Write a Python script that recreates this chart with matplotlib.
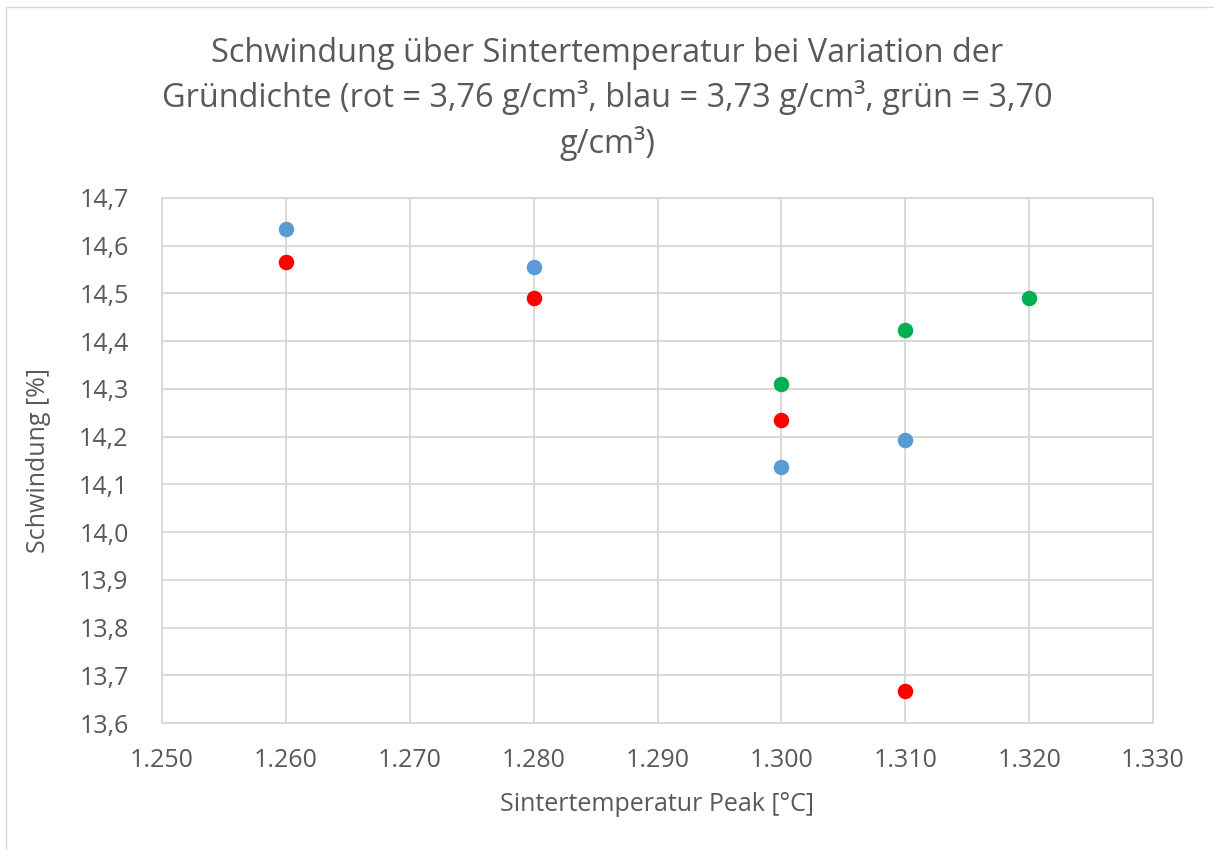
import matplotlib
matplotlib.use("Agg")
import matplotlib.pyplot as plt
from matplotlib.patches import Rectangle
from matplotlib.ticker import FixedLocator, FuncFormatter

plt.rcParams['font.family'] = ['Open Sans', 'DejaVu Sans']

# Sintertemperatur-Peak [°C] und Schwindung [%] je Gründichte
temp_rot = [1260, 1280, 1300, 1310]
schw_rot = [14.566, 14.490, 14.234, 13.667]

temp_blau = [1260, 1280, 1300, 1310]
schw_blau = [14.635, 14.555, 14.136, 14.193]

temp_gruen = [1300, 1310, 1320]
schw_gruen = [14.310, 14.423, 14.490]

x_ticks = [1250, 1260, 1270, 1280, 1290, 1300, 1310, 1320, 1330]
y_ticks = [13.6, 13.7, 13.8, 13.9, 14.0, 14.1, 14.2, 14.3, 14.4, 14.5, 14.6, 14.7]

title = ("Schwindung über Sintertemperatur bei Variation der\n"
         "Gründichte (rot = 3,76 g/cm³, blau = 3,73 g/cm³, grün = 3,70\n"
         "g/cm³)")

text_col = '#595959'
grid_col = '#D9D9D9'

W, H = 1214, 850
fig = plt.figure(figsize=(W / 100, H / 100), dpi=100)

# chart frame
fig.patches.append(Rectangle((6 / W, -0.05), 1.1, 1 - 7 / H + 0.05,
                             transform=fig.transFigure, fill=False,
                             edgecolor=grid_col, linewidth=1.0))

ax = fig.add_axes([162 / W, 1 - 723 / H, (1153 - 162) / W, (723 - 198) / H])

ax.scatter(temp_blau, schw_blau, s=125, color='#5B9BD5', zorder=3, linewidths=0)
ax.scatter(temp_rot, schw_rot, s=125, color='#FF0000', zorder=3, linewidths=0)
ax.scatter(temp_gruen, schw_gruen, s=125, color='#00B050', zorder=3, linewidths=0)

ax.set_xlim(1250, 1330)
ax.set_ylim(13.6, 14.7)
ax.xaxis.set_major_locator(FixedLocator(x_ticks))
ax.yaxis.set_major_locator(FixedLocator(y_ticks))
ax.xaxis.set_major_formatter(FuncFormatter(lambda v, p: f"{int(v):,}".replace(",", ".")))
ax.yaxis.set_major_formatter(FuncFormatter(lambda v, p: f"{v:.1f}".replace(".", ",")))

ax.grid(True, color=grid_col, linewidth=1.4)
ax.set_axisbelow(True)
for s in ax.spines.values():
    s.set_color(grid_col)
    s.set_linewidth(1.4)

ax.tick_params(axis='both', length=0, labelsize=18, labelcolor=text_col)
ax.tick_params(axis='x', pad=18)
ax.tick_params(axis='y', pad=24)

ax.set_xlabel("Sintertemperatur Peak [°C]", fontsize=18, color=text_col, labelpad=14)
ax.set_ylabel("Schwindung [%]", fontsize=18, color=text_col, labelpad=20)

fig.text(0.5, 1 - 37 / H, title, ha='center', va='top', fontsize=23.4,
         color=text_col, linespacing=1.38)

fig.savefig("out.png", dpi=100, facecolor='white')
